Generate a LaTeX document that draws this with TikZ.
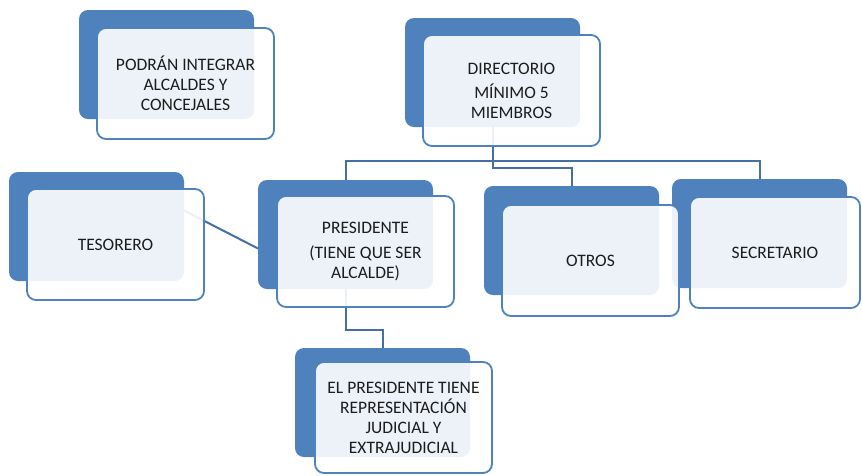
\documentclass[tikz,border=0pt]{standalone}
\usepackage{fontspec}
\setmainfont{Carlito}
\definecolor{accent}{RGB}{79,129,189}
\definecolor{linec}{RGB}{68,112,166}
\definecolor{txt}{RGB}{28,28,28}
\tikzset{%
    bk/.style={rectangle, rounded corners=9pt, fill=accent, anchor=north west, inner sep=0pt, outer sep=0pt, minimum width=175pt, minimum height=109pt},
    fr/.style={rectangle, rounded corners=9pt, draw=accent, line width=1.8pt, fill=white, fill opacity=0.9, text opacity=1, anchor=north west, inner sep=0pt, outer sep=0pt, minimum width=177pt, minimum height=111pt, align=center, text=txt, font=\fontsize{17.5pt}{20pt}\selectfont},
    cn/.style={draw=linec, line width=2pt},
}

\begin{document}
\begin{tikzpicture}[x=1pt,y=-1pt]
    \useasboundingbox (0,0) rectangle (862,475);
    \node [bk] (podB) at (79,10) {};
    \node [bk] (dirB) at (405,18) {};
    \node [bk] (tesB) at (9,172) {};
    \node [bk] (presB) at (258,180) {};
    \node [bk] (otrB) at (484,186) {};
    \node [bk] (secB) at (672,179) {};
    \node [bk] (repB) at (295,348) {};
    \draw [cn] (dirB.south) -- (dirB.south |- 0,168) -| (otrB.north);
    \draw [cn] (presB.north) -- (presB.north |- 0,161) -| (secB.north);
    \draw [cn] (presB.south) -- (presB.south |- 0,330) -| (repB.north);
    \draw [cn] ([yshift=16pt]tesB.east) -- ([yshift=-14pt]presB.west);
    \node [fr] (pod) at (97,28) {PODRÁN INTEGRAR\\ALCALDES Y\\CONCEJALES};
    \node [fr] (dir) at (423,35) {DIRECTORIO\\[4pt]MÍNIMO 5\\MIEMBROS};
    \node [fr] (tes) at (27,189) {TESORERO};
    \node [fr] (pres) at (277,196) {PRESIDENTE\\[5pt](TIENE QUE SER\\ALCALDE)};
    \node [fr] (otr) at (502,205) {OTROS};
    \node [fr, minimum width=170pt] (sec) at (690,197) {SECRETARIO};
    \node [fr] (rep) at (315,362) {EL PRESIDENTE TIENE\\REPRESENTACIÓN\\JUDICIAL Y\\EXTRAJUDICIAL};
\end{tikzpicture}
\end{document}
